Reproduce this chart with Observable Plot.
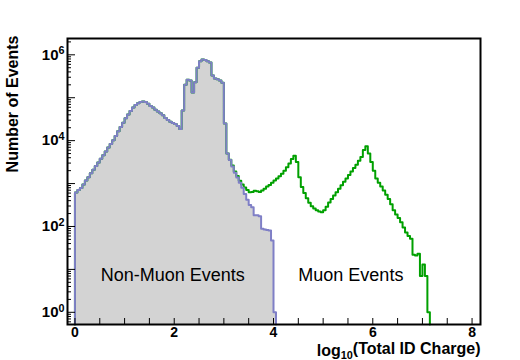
<!DOCTYPE html>
<html><head><meta charset="utf-8">
<script src="https://cdn.jsdelivr.net/npm/d3@7"></script>
<script src="https://cdn.jsdelivr.net/npm/@observablehq/plot@0.6"></script>
<style>
html,body{margin:0;padding:0;background:#fff;}
</style>
</head><body><div id="chart"></div>
<script>
// Histogram binning (log10 of total ID charge)
const binWidth = 0.05;
// Non-muon events, bins starting at 0.0
const nonMuonCounts = [620,710,790,955,1175,1410,1740,2090,2570,3090,
  3800,4570,5620,6920,8320,10200,12900,16600,20900,26300,
  33100,40700,49000,58900,67600,74100,79400,81300,79400,72400,
  64600,58900,52500,47900,43700,38900,33900,30200,27500,25700,
  24500,21900,18600,50100,200000,263000,251000,132000,229000,501000,
  708000,776000,759000,708000,661000,331000,282000,269000,251000,224000,
  25100,5000,3550,2510,1780,1380,1050,794,575,417,
  316,282,182,182,174,89,85,83,81,47,1];
// Muon events, bins starting at 3.0
const muonStart = 3.0;
const muonCounts = [10,20,60,120,130,130,120,160,240,290,
  315,350,495,480,460,600,675,770,850,1000,
  1170,1320,1480,1700,2000,2400,2950,3720,4470,3160,
  1410,830,600,457,355,295,263,240,224,214,
  240,288,363,437,525,631,759,912,1100,1320,
  1580,1910,2290,2750,3390,4170,6030,7410,5010,3160,
  2000,1320,1050,851,692,550,437,331,240,191,
  158,126,95,72,60,52,22,21,23,7,
  13,7,1];
const xTickValues = [0,2,4,6,8];
const yLabelExponents = [0,2,4,6];
const nonMuonLabel = "Non-Muon Events";
const muonLabel = "Muon Events";
const xTitle = "log10(Total ID Charge)";
const yTitle = "Number of Events";

const yDomain = [0.52, 2.4e6];
const xDomain = [-0.15, 8.17];

const muonOffset = Math.round(muonStart / binWidth);
const nBins = muonOffset + muonCounts.length;
const bins = d3.range(nBins).map(i => {
  const non = i < nonMuonCounts.length ? nonMuonCounts[i] : 0;
  const mu = i >= muonOffset ? muonCounts[i - muonOffset] : 0;
  return {x: i * binWidth, non, all: non + mu};
});
function stepPoints(key, n) {
  const pts = [{x: 0, y: yDomain[0]}];
  for (let i = 0; i < n; i++) pts.push({x: bins[i].x, y: Math.max(bins[i][key], yDomain[0])});
  pts.push({x: n * binWidth, y: yDomain[0]});
  return pts;
}
const nonPts = stepPoints("non", nonMuonCounts.length);
const allPts = stepPoints("all", nBins);

const yMajor = d3.range(0, 7).map(k => Math.pow(10, k));
const yMinor = [];
for (let k = -1; k <= 6; k++) for (let m = 2; m <= 9; m++) {
  const v = m * Math.pow(10, k);
  if (v >= yDomain[0] && v <= yDomain[1]) yMinor.push(v);
}
const xMinor = d3.range(0, 16.5).map(i => i * 0.5);

const font = "'Liberation Sans', Arial, Helvetica, sans-serif";
const plot = Plot.plot({
  width: 520, height: 360,
  marginLeft: 67, marginRight: 40, marginTop: 38, marginBottom: 36,
  style: {fontFamily: font, background: "#fff", color: "#000"},
  x: {type: "linear", domain: xDomain},
  y: {type: "log", domain: yDomain},
  marks: [
    Plot.areaY(nonPts, {x: "x", y1: yDomain[0], y2: "y", curve: "step-after", fill: "#d3d3d3"}),
    Plot.line(allPts, {x: "x", y: "y", curve: "step-after", stroke: "#00a000", strokeWidth: 2}),
    Plot.line(nonPts, {x: "x", y: "y", curve: "step-after", stroke: "#7f7fc6", strokeWidth: 2}),
    Plot.text([nonMuonLabel], {x: 0.52, y: 5.3, text: d => d, textAnchor: "start", lineAnchor: "bottom", fontSize: 18, fill: "#000"}),
    Plot.text([muonLabel], {x: 4.5, y: 5.3, text: d => d, textAnchor: "start", lineAnchor: "bottom", fontSize: 18, fill: "#000"}),
    Plot.axisX(xMinor, {tickSize: 6, dy: -6, fill: "none"}),
    Plot.axisX(xTickValues, {tickSize: 0, tickPadding: 3, fontWeight: "bold", fontSize: 14, label: null, tickFormat: d => String(d)}),
    Plot.axisY(yMajor, {tickSize: 8, dx: 8, fill: "none"}),
    Plot.axisY(yMinor, {tickSize: 4, dx: 4, fill: "none"}),
    Plot.axisY(yLabelExponents.map(k => Math.pow(10, k)), {tickSize: 0, tickPadding: 3, fontWeight: "bold", fontSize: 15, label: null,
      tickFormat: d => "10^" + Math.round(Math.log10(d))}),
    Plot.text([yTitle], {frameAnchor: "top-left", text: d => d, rotate: -90, textAnchor: "end", lineAnchor: "middle", dx: -55, dy: -3, fontWeight: "bold", fontSize: 16}),
    Plot.text([xTitle], {frameAnchor: "bottom-right", text: d => d, textAnchor: "end", lineAnchor: "bottom", dy: 31, fontWeight: "bold", fontSize: 16}),
    Plot.frame({stroke: "#000", strokeWidth: 2})
  ]
});
document.getElementById("chart").appendChild(plot);

// Superscripts for log tick labels, subscript for log10 in the title
d3.select(plot).selectAll("text").each(function() {
  const t = d3.select(this);
  const s = this.textContent;
  let m = /^10\^(-?\d+)$/.exec(s);
  if (m) {
    t.text(null);
    t.append("tspan").text("10");
    t.append("tspan").attr("dy", "-0.5em").attr("font-size", "0.72em").text(m[1]);
    return;
  }
  if (s === xTitle) {
    t.text(null);
    t.append("tspan").text("log");
    t.append("tspan").attr("dy", "0.3em").attr("font-size", "0.68em").text("10");
    t.append("tspan").attr("dy", "-0.3em").text("(Total ID Charge)");
  }
});
</script>
</body></html>
